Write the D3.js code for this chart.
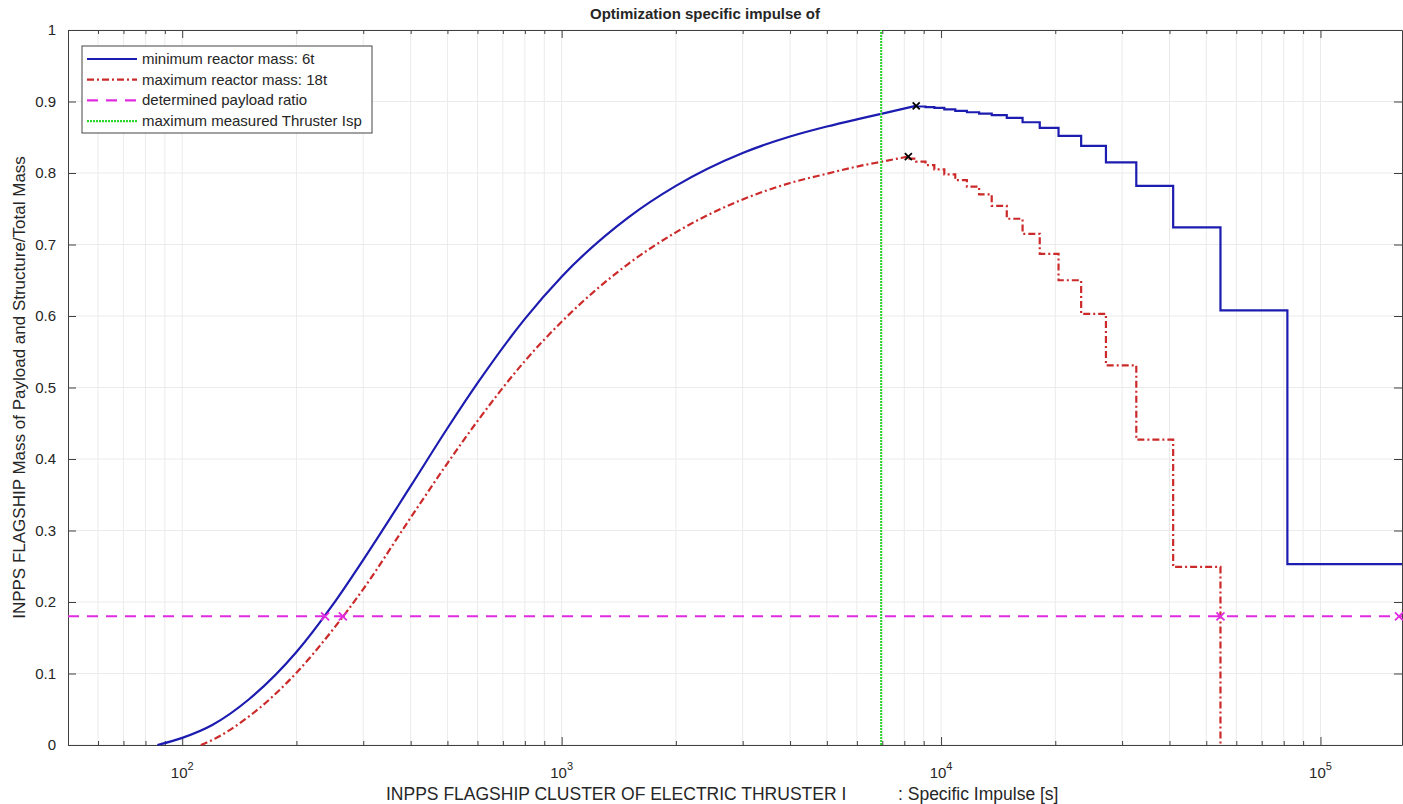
<!DOCTYPE html>
<html>
<head>
<meta charset="utf-8">
<script src="https://cdn.jsdelivr.net/npm/d3@7"></script>
<style>
  body { margin: 0; background: #fff; }
  text { font-family: "Liberation Sans", Arial, Helvetica, sans-serif; fill: #262626; }
</style>
</head>
<body>
<div id="chart"></div>
<script>
// DATA
var blueIsp = [86, 100, 120, 150, 200, 250, 300, 400, 500, 600, 800, 1000, 1500, 2000, 3000, 4000, 5000, 6000, 7000, 8600]
var blueVal = [0, 0.010, 0.028, 0.064, 0.130, 0.197, 0.259, 0.362, 0.443, 0.506, 0.596, 0.655, 0.738, 0.782, 0.828, 0.851, 0.865, 0.875, 0.883, 0.894]
var blueStepIsp = [8600, 9100, 9600, 10200, 10900, 11700, 12600, 13600, 14900, 16400, 18200, 20400, 23400, 27200, 32700, 40900, 54500, 81800, 164000]
var blueStepVal = [0.893, 0.892, 0.891, 0.889, 0.887, 0.885, 0.883, 0.881, 0.877, 0.871, 0.863, 0.852, 0.838, 0.815, 0.782, 0.724, 0.608, 0.253, 0.253]

var redIsp = [112, 120, 150, 200, 250, 300, 400, 500, 600, 800, 1000, 1500, 2000, 3000, 4000, 5000, 6000, 7000, 8200]
var redVal = [0, 0.007, 0.040, 0.101, 0.162, 0.218, 0.318, 0.394, 0.453, 0.537, 0.592, 0.673, 0.717, 0.763, 0.786, 0.799, 0.809, 0.816, 0.823]
var redStepIsp = [8200, 8600, 9100, 9600, 10200, 10900, 11700, 12600, 13600, 14900, 16400, 18200, 20400, 23400, 27200, 32700, 40900, 54500, 54500]
var redStepVal = [0.820, 0.816, 0.811, 0.805, 0.798, 0.790, 0.781, 0.770, 0.754, 0.736, 0.715, 0.687, 0.650, 0.603, 0.531, 0.427, 0.249, 0.249, 0]

var payloadRatio = 0.18
var payloadMarksIsp = [238, 265, 54500, 164000]
var maxThrusterIsp = 6950
var peakIsp = [8600, 8200]
var peakVal = [0.894, 0.823]

var yTicks = [0, 0.1, 0.2, 0.3, 0.4, 0.5, 0.6, 0.7, 0.8, 0.9, 1]
var xMajor = [100, 1000, 10000, 100000]

var legendItems = [
  {label: "minimum reactor mass: 6t", color: "#1c1cb0", dash: null},
  {label: "maximum reactor mass: 18t", color: "#cc2a2a", dash: "7,3,2,3"},
  {label: "determined payload ratio", color: "#e02be0", dash: "11,8"},
  {label: "maximum measured Thruster Isp", color: "#2ad62a", dash: "2,1"}
]

var W = 1403, H = 804
var margin = {top: 30, right: 1, bottom: 59, left: 68}

var svg = d3.select("#chart").append("svg")
  .attr("width", W)
  .attr("height", H)

var x = d3.scaleLog().domain([50, 164000]).range([margin.left, W - margin.right])
var y = d3.scaleLinear().domain([0, 1]).range([H - margin.bottom, margin.top])

var x0 = x.range()[0], x1 = x.range()[1], y0 = y.range()[0], y1 = y.range()[1]

// GRID
var allX = x.ticks().filter(d => d > 50)
svg.append("g").selectAll("line")
  .data(allX)
  .enter().append("line")
    .attr("x1", d => x(d)).attr("x2", d => x(d))
    .attr("y1", y0).attr("y2", y1)
    .attr("stroke", "#ebebeb")
    .attr("stroke-width", 1)

svg.append("g").selectAll("line")
  .data(yTicks)
  .enter().append("line")
    .attr("x1", x0).attr("x2", x1)
    .attr("y1", d => y(d)).attr("y2", d => y(d))
    .attr("stroke", "#ebebeb")
    .attr("stroke-width", 1)

// AXES (matlab style: inward ticks on all four sides)
function isMajor(d) { return xMajor.indexOf(d) >= 0 }

svg.append("g")
  .attr("transform", "translate(0," + y0 + ")")
  .call(d3.axisBottom(x).tickValues(allX).tickSizeInner(-4).tickSizeOuter(0).tickFormat(""))
  .call(g => g.selectAll(".tick line").filter(d => isMajor(d)).attr("y2", -8))
svg.append("g")
  .attr("transform", "translate(0," + y1 + ")")
  .call(d3.axisTop(x).tickValues(allX).tickSizeInner(-4).tickSizeOuter(0).tickFormat(""))
  .call(g => g.selectAll(".tick line").filter(d => isMajor(d)).attr("y2", 8))
svg.append("g")
  .attr("transform", "translate(" + x0 + ",0)")
  .call(d3.axisLeft(y).tickValues(yTicks).tickSizeInner(-8).tickSizeOuter(0).tickPadding(12)
    .tickFormat(d => d === 0 || d === 1 ? d3.format("d")(d) : d3.format(".1f")(d)))
svg.append("g")
  .attr("transform", "translate(" + x1 + ",0)")
  .call(d3.axisRight(y).tickValues(yTicks).tickSizeInner(-8).tickSizeOuter(0).tickFormat(""))

svg.selectAll(".domain").attr("stroke", "#404040")
svg.selectAll(".tick line").attr("stroke", "#404040")
svg.selectAll(".tick text").style("font-size", "15px").style("fill", "#262626")
  .style("font-family", "'Liberation Sans', Arial, sans-serif")

// x tick labels 10^n
var xl = svg.append("g").selectAll("text")
  .data(xMajor)
  .enter().append("text")
    .attr("x", d => x(d))
    .attr("y", y0 + 33)
    .attr("text-anchor", "middle")
    .style("font-size", "15px")
xl.append("tspan").text("10")
xl.append("tspan").attr("dy", -8).style("font-size", "11px").text(d => Math.round(Math.log10(d)))

// LINES
var line = d3.line().x(d => x(d[0])).y(d => y(d[1]))
var plot = svg.append("g")

plot.append("path")
  .attr("d", line.curve(d3.curveMonotoneX)(d3.zip(blueIsp, blueVal)))
  .attr("fill", "none").attr("stroke", legendItems[0].color).attr("stroke-width", 2.2)
plot.append("path")
  .attr("d", line.curve(d3.curveStepAfter)(d3.zip(blueStepIsp, blueStepVal)))
  .attr("fill", "none").attr("stroke", legendItems[0].color).attr("stroke-width", 2.2)

plot.append("path")
  .attr("d", line.curve(d3.curveMonotoneX)(d3.zip(redIsp, redVal)))
  .attr("fill", "none").attr("stroke", legendItems[1].color).attr("stroke-width", 2.2)
  .attr("stroke-dasharray", legendItems[1].dash)
plot.append("path")
  .attr("d", line.curve(d3.curveStepAfter)(d3.zip(redStepIsp, redStepVal)))
  .attr("fill", "none").attr("stroke", legendItems[1].color).attr("stroke-width", 2.2)
  .attr("stroke-dasharray", legendItems[1].dash)

// payload ratio
plot.append("line")
  .attr("x1", x0).attr("x2", x1)
  .attr("y1", y(payloadRatio)).attr("y2", y(payloadRatio))
  .attr("stroke", legendItems[2].color).attr("stroke-width", 2)
  .attr("stroke-dasharray", legendItems[2].dash)

// max thruster isp
plot.append("line")
  .attr("x1", x(maxThrusterIsp)).attr("x2", x(maxThrusterIsp))
  .attr("y1", y0).attr("y2", y1)
  .attr("stroke", legendItems[3].color).attr("stroke-width", 2)
  .attr("stroke-dasharray", legendItems[3].dash)

function cross(g, cx, cy, color, r) {
  g.append("path")
    .attr("d", "M" + (cx - r) + "," + (cy - r) + "L" + (cx + r) + "," + (cy + r) +
      "M" + (cx - r) + "," + (cy + r) + "L" + (cx + r) + "," + (cy - r))
    .attr("stroke", color).attr("stroke-width", 1.8).attr("fill", "none")
}
payloadMarksIsp.forEach(d => cross(plot, x(d) - (d === 164000 ? 3 : 0), y(payloadRatio), "#e02be0", 4))
peakIsp.forEach((d, i) => cross(plot, x(d), y(peakVal[i]), "#000", 3.5))

// LEGEND
var lg = svg.append("g").attr("transform", "translate(82,46)")
lg.append("rect")
  .attr("width", 290).attr("height", 87)
  .attr("fill", "#fff").attr("stroke", "#444").attr("stroke-width", 1)
var le = lg.selectAll(".legend")
  .data(legendItems)
  .enter().append("g")
    .attr("transform", (d, i) => "translate(0," + (13 + i * 20.7) + ")")
le.append("line")
  .attr("x1", 5).attr("x2", 55)
  .attr("stroke", d => d.color).attr("stroke-width", 2.2)
  .attr("stroke-dasharray", d => d.dash)
le.append("text")
  .attr("x", 60).attr("y", 5)
  .style("font-size", "15px")
  .text(d => d.label)

// TITLES
svg.append("text")
  .attr("x", 590).attr("y", 19)
  .style("font-size", "15px").style("font-weight", "bold")
  .text("Optimization specific impulse of")

svg.append("text")
  .attr("x", 386).attr("y", 800)
  .style("font-size", "17.5px")
  .text("INPPS FLAGSHIP CLUSTER OF ELECTRIC THRUSTER I")
svg.append("text")
  .attr("x", 898).attr("y", 800)
  .style("font-size", "17.5px")
  .text(": Specific Impulse [s]")

svg.append("text")
  .attr("transform", "translate(25," + ((y0 + y1) / 2) + ") rotate(-90)")
  .attr("text-anchor", "middle")
  .style("font-size", "17px")
  .text("INPPS FLAGSHIP Mass of Payload and Structure/Total Mass")
</script>
</body>
</html>
